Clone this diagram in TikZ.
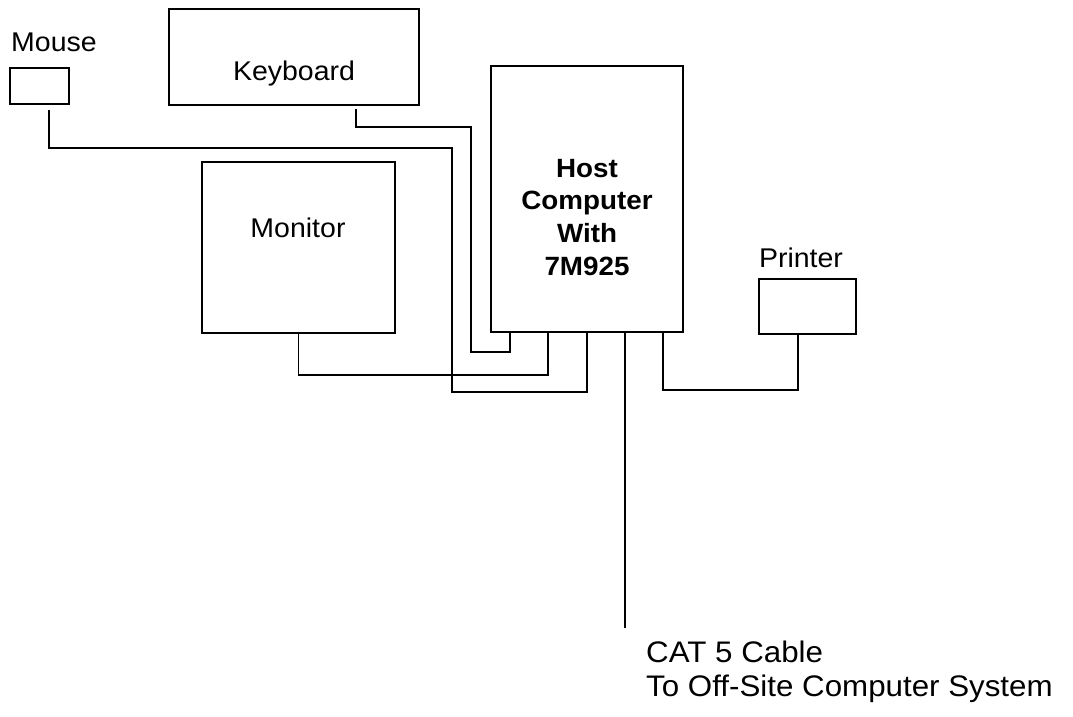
\documentclass[tikz,border=0pt]{standalone}
\usepackage{fontspec}
\setmainfont{Liberation Sans}
\usepackage{graphicx}
\newcommand\sqz[1]{\scalebox{1}[0.95]{#1}}
\begin{document}
\begin{tikzpicture}[x=1pt,y=-1pt,
  box/.style={draw, line width=1.9pt, inner sep=0pt, outer sep=0pt},
  wire/.style={line width=1.9pt},
  lbl/.style={inner sep=0pt, font=\fontsize{28.5}{34}\selectfont},
  hostlbl/.style={inner sep=0pt, font=\fontsize{27.8}{34.4}\selectfont\bfseries},
  catlbl/.style={inner sep=0pt, font=\fontsize{31.3}{36.8}\selectfont}]
\useasboundingbox (0,0) rectangle (1073,717);
% boxes
\node[box, minimum width=59pt, minimum height=36pt] (mouse) at (39.5,86) {};
\node[box, minimum width=250pt, minimum height=96pt] (keyboard) at (294,57) {};
\node[box, minimum width=193pt, minimum height=171pt] (monitor) at (298.5,247.5) {};
\node[box, minimum width=192pt, minimum height=266pt] (host) at (587,199) {};
\node[box, minimum width=97pt, minimum height=55pt] (printer) at (807.5,306.5) {};
% labels
\node[lbl, anchor=base west] (mouselbl) at (11,52) {\sqz{Mouse}};
\node[lbl, anchor=base] (keyboardlbl) at (294,81) {\sqz{Keyboard}};
\node[lbl, anchor=base] (monitorlbl) at (298,237) {\sqz{Monitor}};
\node[lbl, anchor=base] (printerlbl) at (801,267) {\sqz{Printer}};
\node[hostlbl, anchor=base] (hostlbl) at (587,177) {\sqz{\begin{tabular}[t]{@{}c@{}}Host\\Computer\\With\\7M925\end{tabular}}};
\node[catlbl, anchor=base west] (catlbl) at (646,662) {\sqz{\begin{tabular}[t]{@{}l@{}}CAT 5 Cable\\To Off-Site Computer System\end{tabular}}};
\coordinate (cableend) at (625,628);
% connectors
\draw[wire, shorten <=6pt] ([xshift=9.5pt]mouse.south) |- (452,148) |- (587,392) -- (host.south);
\draw[wire, shorten <=4pt] ([xshift=62pt]keyboard.south) |- (471,127) |- (510,352) -- ([xshift=-77pt]host.south);
\draw[wire] (monitor.south) |- (548,375) -- ([xshift=-39pt]host.south);
\draw[wire] ([xshift=38pt]host.south) -- (cableend);
\draw[wire] ([xshift=76pt]host.south) |- (798,390) -- ([xshift=-9.5pt]printer.south);
\end{tikzpicture}
\end{document}
